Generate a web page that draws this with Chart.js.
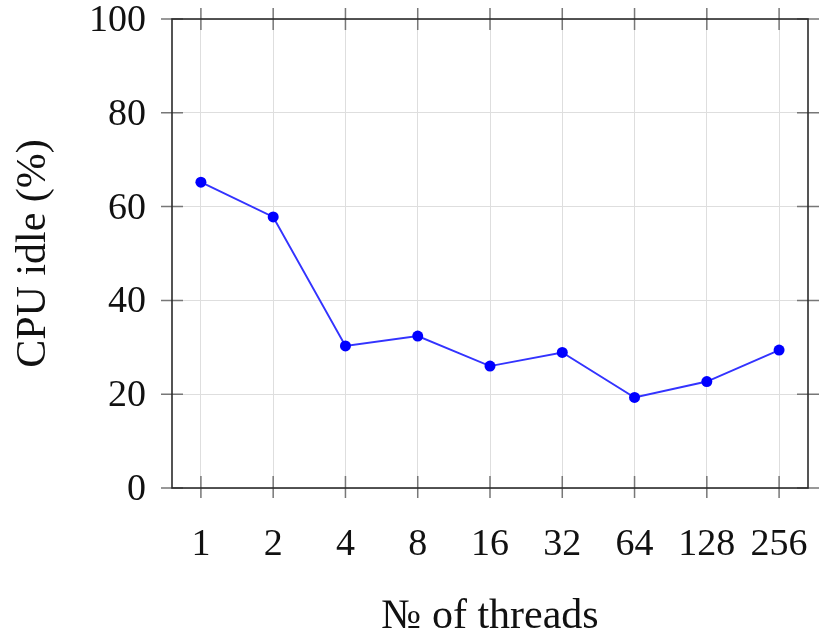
<!DOCTYPE html>
<html>
<head>
<meta charset="utf-8">
<script src="https://cdn.jsdelivr.net/npm/chart.js@4"></script>
<style>
  html, body { margin: 0; padding: 0; background: #fff; }
  #wrap { width: 825px; height: 634px; }
</style>
</head>
<body>
<div id="wrap"><canvas id="c" width="825" height="634"></canvas></div>
<script>
// ---- data ----
const threadLabels = ['1', '2', '4', '8', '16', '32', '64', '128', '256'];
const cpuIdle = [65.2, 57.8, 30.3, 32.4, 26.0, 28.9, 19.3, 22.7, 29.4];
const yTicks = [0, 20, 40, 60, 80, 100];
const xTitle = '№ of threads';
const yTitle = 'CPU idle (%)';

const FONT = '"Liberation Serif", "Times New Roman", serif';
const FS = 38;
const FT = 42;

const frameTicks = {
  id: 'frameTicks',
  afterDraw(chart) {
    const { ctx, chartArea: a, scales } = chart;
    ctx.save();
    ctx.strokeStyle = '#777777';
    ctx.lineWidth = 1.5;
    ctx.beginPath();
    threadLabels.forEach((_, i) => {
      const px = scales.x.getPixelForValue(i);
      ctx.moveTo(px, a.bottom - 12); ctx.lineTo(px, a.bottom + 10);
      ctx.moveTo(px, a.top - 11); ctx.lineTo(px, a.top + 11);
    });
    yTicks.forEach(v => {
      const py = scales.y.getPixelForValue(v);
      ctx.moveTo(a.left - 11, py); ctx.lineTo(a.left + 11, py);
      ctx.moveTo(a.right - 11, py); ctx.lineTo(a.right + 11, py);
    });
    ctx.stroke();
    ctx.strokeStyle = '#2b2b2b';
    ctx.lineWidth = 1.6;
    ctx.strokeRect(a.left, a.top, a.right - a.left, a.bottom - a.top);
    ctx.restore();
  }
};

function noPad(s) {
  s.paddingTop = 0; s.paddingBottom = 0; s.paddingLeft = 0; s.paddingRight = 0;
}

new Chart(document.getElementById('c'), {
  type: 'line',
  data: {
    datasets: [{
      data: cpuIdle.map((v, i) => ({ x: i, y: v })),
      borderColor: '#3333ff',
      borderWidth: 1.9,
      pointBackgroundColor: '#0000ff',
      pointBorderColor: '#0000ff',
      pointRadius: 5.5,
      pointBorderWidth: 0,
      tension: 0,
      fill: false
    }]
  },
  options: {
    responsive: false,
    animation: false,
    devicePixelRatio: 1,
    layout: { padding: { top: 19, right: 17, left: 0, bottom: 0 } },
    plugins: { legend: { display: false }, tooltip: { enabled: false } },
    scales: {
      x: {
        type: 'linear',
        min: -0.4,
        max: threadLabels.length - 1 + 0.4,
        afterBuildTicks: s => { s.ticks = threadLabels.map((_, i) => ({ value: i })); },
        afterFit: s => { s.height = 146; noPad(s); },
        grid: { color: '#dedede', lineWidth: 1, drawTicks: false },
        border: { display: false },
        ticks: {
          autoSkip: false,
          maxRotation: 0,
          padding: 34,
          color: '#111',
          font: { family: FONT, size: FS, lineHeight: 1.2 },
          callback: v => threadLabels[v]
        },
        title: {
          display: true,
          text: xTitle,
          color: '#111',
          font: { family: FONT, size: FT, lineHeight: 0.8 },
          padding: { top: 0, bottom: 0 }
        }
      },
      y: {
        min: 0,
        max: 100,
        afterBuildTicks: s => { s.ticks = yTicks.map(v => ({ value: v })); },
        afterFit: s => { s.width = 172; noPad(s); },
        grid: { color: '#dedede', lineWidth: 1, drawTicks: false },
        border: { display: false },
        ticks: {
          padding: 26,
          labelOffset: 2,
          color: '#111',
          font: { family: FONT, size: FS, lineHeight: 1.0 }
        },
        title: {
          display: true,
          text: yTitle,
          color: '#111',
          font: { family: FONT, size: FT, lineHeight: 1.2 },
          padding: { top: 9, bottom: 0 }
        }
      }
    }
  },
  plugins: [frameTicks]
});
</script>
</body>
</html>
